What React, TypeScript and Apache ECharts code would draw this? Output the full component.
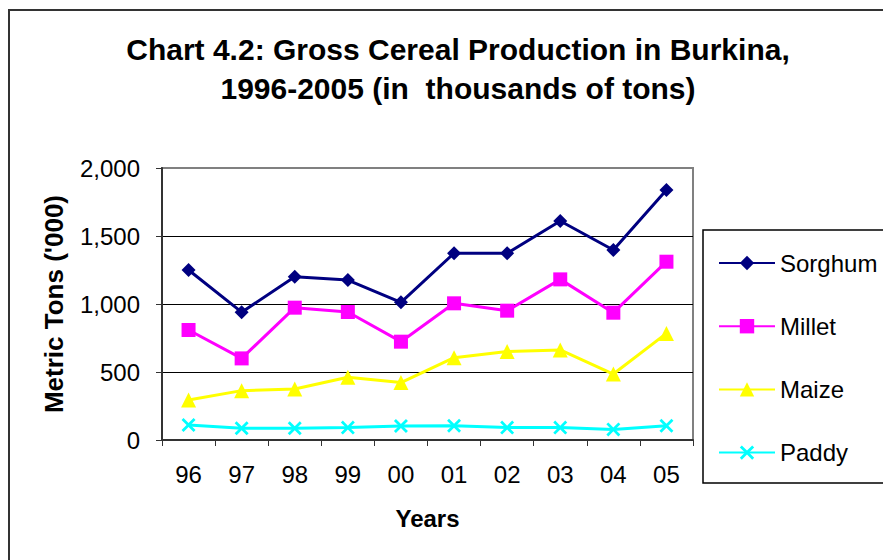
import React, { useEffect, useRef } from "react";
import * as echarts from "echarts";

const years = ["96", "97", "98", "99", "00", "01", "02", "03", "04", "05"];
const sorghum = [1250, 940, 1200, 1176, 1012, 1373, 1373, 1610, 1397, 1838];
const millet = [809, 600, 973, 941, 723, 1005, 951, 1181, 936, 1311];
const maize = [294, 363, 375, 461, 422, 605, 650, 662, 485, 784];
const paddy = [110, 86, 86, 91, 103, 105, 91, 91, 78, 105];
const yTicks = [0, 500, 1000, 1500, 2000];

const FONT = "'Liberation Sans', Arial, sans-serif";
const CROSS =
  "path://M0,1.4L1.4,0L5,3.6L8.6,0L10,1.4L6.4,5L10,8.6L8.6,10L5,6.4L1.4,10L0,8.6L3.6,5Z";

export default function App() {
  const ref = useRef<HTMLDivElement>(null);
  useEffect(() => {
    if (!ref.current) return;
    const chart = echarts.init(ref.current, null, { renderer: "svg" });
    const mk = (name: string, data: number[], color: string, symbol: string, size: number) => ({
      name,
      type: "line",
      data,
      symbol,
      symbolSize: size,
      showAllSymbol: true,
      lineStyle: { color, width: 3 },
      itemStyle: { color, borderWidth: 0 },
      z: 3,
    });
    chart.setOption({
      animation: false,
      backgroundColor: "#fff",
      textStyle: { fontFamily: FONT },
      title: {
        text: "Chart 4.2: Gross Cereal Production in Burkina,\n1996-2005 (in  thousands of tons)",
        left: 453,
        top: 25,
        textAlign: "center",
        textStyle: {
          fontFamily: FONT,
          fontSize: 30,
          fontWeight: "bold",
          color: "#000",
          lineHeight: 39,
        },
      },
      graphic: [
        {
          type: "rect",
          shape: { x: 9, y: 10, width: 900, height: 600 },
          style: { fill: "none", stroke: "#333", lineWidth: 2 },
          silent: true,
        },
        {
          type: "rect",
          shape: { x: 703, y: 230, width: 200, height: 253 },
          style: { fill: "#fff", stroke: "#000", lineWidth: 1.5 },
          silent: true,
          z: -1,
        },
      ],
      legend: {
        orient: "vertical",
        left: 713,
        top: 246,
        itemWidth: 56,
        itemHeight: 18,
        itemGap: 39.2,
        textStyle: { fontFamily: FONT, fontSize: 24, color: "#000" },
        data: ["Sorghum", "Millet", "Maize", "Paddy"],
      },
      grid: {
        left: 162,
        top: 168,
        right: 190,
        bottom: 120,
        show: true,
        borderColor: "#808080",
        borderWidth: 2,
        backgroundColor: "#fff",
      },
      xAxis: {
        type: "category",
        data: years,
        boundaryGap: true,
        name: "Years",
        nameLocation: "middle",
        nameGap: 66,
        nameTextStyle: { fontFamily: FONT, fontSize: 24, fontWeight: "bold", color: "#000" },
        axisLine: { lineStyle: { color: "#333", width: 2 } },
        axisTick: { show: true, length: 6, inside: false, lineStyle: { color: "#333", width: 1 } },
        axisLabel: { fontFamily: FONT, fontSize: 24, color: "#000", margin: 22 },
        splitLine: { show: false },
      },
      yAxis: {
        type: "value",
        min: yTicks[0],
        max: yTicks[yTicks.length - 1],
        interval: 500,
        name: "Metric Tons ('000)",
        nameLocation: "middle",
        nameGap: 95,
        nameTextStyle: { fontFamily: FONT, fontSize: 26, fontWeight: "bold", color: "#000" },
        axisLine: { show: true, lineStyle: { color: "#333", width: 2 } },
        axisTick: { show: true, length: 6, inside: false, lineStyle: { color: "#333", width: 1 } },
        axisLabel: {
          fontFamily: FONT,
          fontSize: 24,
          color: "#000",
          margin: 22,
          formatter: (v: number) => String(v).replace(/\B(?=(\d{3})+(?!\d))/g, ","),
        },
        splitLine: {
          show: true,
          lineStyle: { color: ["#000", "#000", "#000", "#000", "#808080"], width: 1 },
        },
      },
      series: [
        mk("Sorghum", sorghum, "#000080", "diamond", 14),
        mk("Millet", millet, "#FF00FF", "rect", 14),
        mk("Maize", maize, "#FFFF00", "triangle", 15),
        mk("Paddy", paddy, "#00FFFF", CROSS, 14),
      ],
    });
    return () => chart.dispose();
  }, []);
  return (
    <div
      ref={ref}
      style={{ position: "absolute", left: 0, top: 0, width: 883, height: 560 }}
    />
  );
}
